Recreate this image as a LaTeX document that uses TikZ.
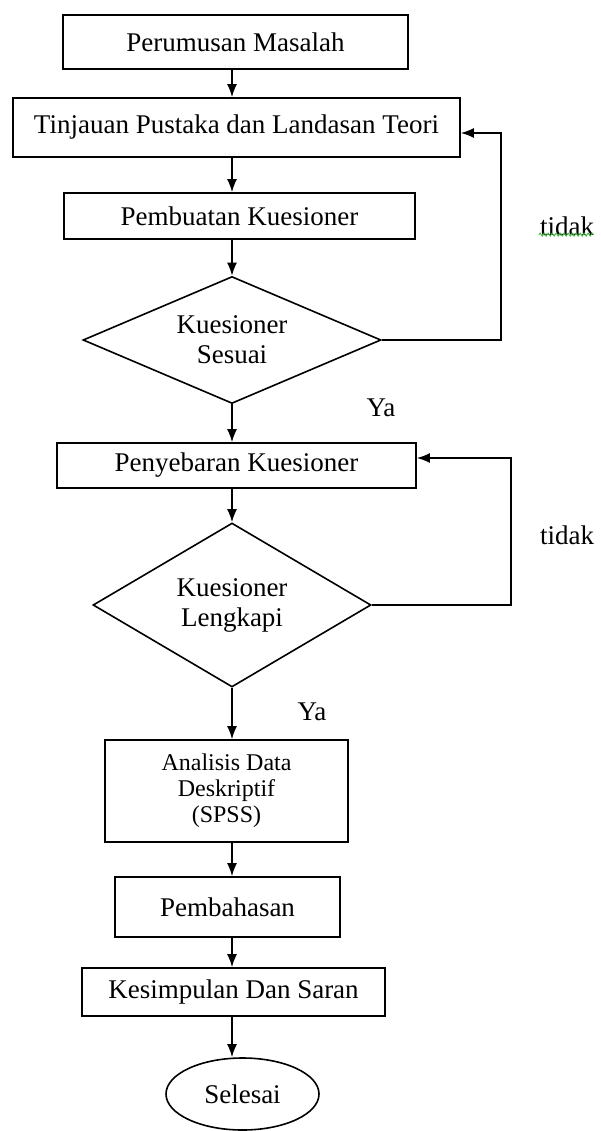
\documentclass[tikz,border=0pt]{standalone}
\usepackage{fontspec}
\setmainfont{Liberation Serif}
\usetikzlibrary{shapes.geometric,arrows.meta,decorations.pathmorphing}
\begin{document}
\begin{tikzpicture}[x=1pt,y=1pt,line width=1.6pt,>={Latex[length=13pt,width=10pt]},
    kotak/.style={draw,rectangle,inner sep=0,font=\fontsize{27}{30}\selectfont},
    pilih/.style={draw,diamond,aspect=2.2,inner sep=0,align=center,font=\fontsize{27}{30}\selectfont},
    teks/.style={font=\fontsize{27}{30}\selectfont}]
      \useasboundingbox (0,0) rectangle (600,-1131);
      \coordinate (sumbu) at (232,0);
      \node[kotak,minimum width=345pt,minimum height=54pt] (perumusan) at (235.5,-42) {Perumusan Masalah};
      \node[kotak,minimum width=447pt,minimum height=59pt] (tinjauan) at (236.5,-127.5) {Tinjauan Pustaka dan Landasan Teori};
      \node[kotak,minimum width=351pt,minimum height=46pt] (pembuatan) at (239.5,-216) {Pembuatan Kuesioner};
      \node[pilih,minimum width=298pt,minimum height=127pt] (sesuai) at (232,-340) {Kuesioner\\Sesuai};
      \node[kotak,minimum width=359pt,minimum height=45pt] (penyebaran) at (236.5,-465.5) {Penyebaran Kuesioner};
      \node[pilih,minimum width=278pt,minimum height=164pt] (lengkapi) at (232,-605) {Kuesioner\\Lengkapi};
      \node[kotak,minimum width=243pt,minimum height=102pt,align=center,
            font=\fontsize{24}{26}\selectfont] (analisis) at (226.5,-791) {Analisis Data\\Deskriptif\\(SPSS)};
      \node[kotak,minimum width=225pt,minimum height=60pt] (pembahasan) at (227.5,-907) {Pembahasan};
      \node[kotak,minimum width=303pt,minimum height=48pt] (kesimpulan) at (233.5,-992) {Kesimpulan Dan Saran};
      \node[draw,ellipse,inner sep=0,minimum width=153pt,minimum height=72pt,teks] (selesai) at (242.5,-1094) {Selesai};
      \node[teks] (tidaka) at (567,-226) {tidak};
      \node[teks] (tidakb) at (567,-535) {tidak};
      \node[teks] (yaa) at (381,-408) {Ya};
      \node[teks] (yab) at (312,-712) {Ya};
      \draw[green!45!gray,line width=0.9pt,decorate,decoration={snake,amplitude=1.5pt,segment length=4pt}]
        (tidaka.south west) ++(3,5) -- ++(55,0);
      \draw[->] (perumusan.south -| sumbu) -- (tinjauan.north -| sumbu);
      \draw[->] (tinjauan.south -| sumbu) -- (pembuatan.north -| sumbu);
      \draw[->] (pembuatan.south -| sumbu) -- (sesuai.north);
      \draw[->] (sesuai.south) -- (penyebaran.north -| sesuai.south);
      \draw[->] (penyebaran.south -| sumbu) -- (lengkapi.north);
      \draw[->] (lengkapi.south) -- (analisis.north -| lengkapi.south);
      \draw[->] (analisis.south -| sumbu) -- (pembahasan.north -| sumbu);
      \draw[->] (pembahasan.south -| sumbu) -- (kesimpulan.north -| sumbu);
      \draw[->] (kesimpulan.south -| sumbu) -- (selesai.north -| sumbu);
      \draw[->] (sesuai.east) -- ++(119,0) |- ([yshift=-5.5pt]tinjauan.east);
      \draw[->] (lengkapi.east) -- ++(139,0) |- ([yshift=7.5pt]penyebaran.east);
    \end{tikzpicture}
\end{document}
